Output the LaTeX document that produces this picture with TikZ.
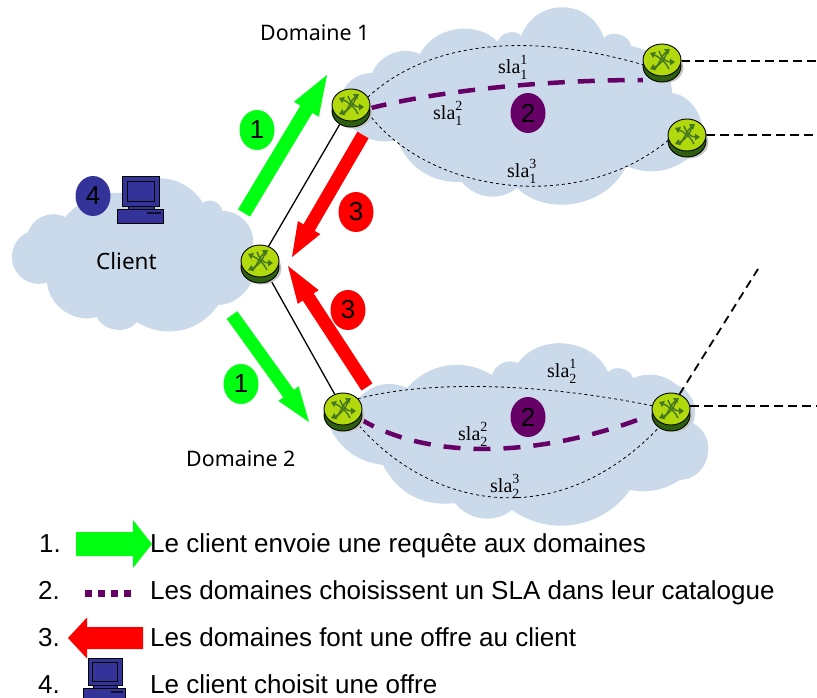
\documentclass[tikz,border=0pt]{standalone}
\usepackage{fontspec}
\setmainfont{Liberation Sans}
\newfontfamily\lblfont{Noto Sans}
\newfontfamily\slafont{Liberation Serif}
\usetikzlibrary{calc,arrows.meta,shapes.geometric}
\definecolor{cloudc}{HTML}{CBDAEB}
\definecolor{grn}{HTML}{00FF12}
\definecolor{rd}{HTML}{FF0000}
\definecolor{purp}{HTML}{660066}
\definecolor{blu}{HTML}{333399}
\definecolor{lime}{HTML}{B2D80E}
\definecolor{dkg}{HTML}{2F5F10}
\definecolor{arrg}{HTML}{44771F}
\tikzset{
  cloudshape/.style={fill=cloudc,draw=none},
  rtr/.style={ellipse,inner sep=0pt,minimum width=38pt,minimum height=32pt},
  badge/.style={ellipse,inner sep=0pt,minimum width=35pt,minimum height=40pt,font=\fontsize{26}{26}\selectfont},
  thinsla/.style={line width=0.8pt,dash pattern=on 3pt off 3pt,black},
  thicksla/.style={line width=4.5pt,dash pattern=on 17pt off 13pt,purp},
  extern/.style={line width=1.8pt,dash pattern=on 8.5pt off 5.5pt,black},
  link/.style={line width=1.3pt,black},
  legendtxt/.style={anchor=base west,inner sep=0pt,font=\fontsize{26}{26}\selectfont},
  lbl/.style={anchor=base west,inner sep=0pt,font=\lblfont\fontsize{21.4}{22}\selectfont},
  slalbl/.style={anchor=base west,inner sep=0pt,font=\slafont\fontsize{20}{20}\selectfont},
}
\newcommand{\sla}[2]{sla\rlap{\raisebox{9pt}{\fontsize{14}{14}\selectfont #2}}\raisebox{-6pt}{\fontsize{14}{14}\selectfont #1}}
\newcommand{\bigarrow}[7]{%
  % name, colour, tail, tip, shaft half, head half, head length
  \coordinate (#1T) at (#3);\coordinate (#1P) at (#4);
  \coordinate (#1B) at ($(#1P)!#7pt!(#1T)$);
  \fill[#2] ($(#1T)!#5pt!90:(#1P)$) -- ($(#1B)!#5pt!90:(#1P)$) -- ($(#1B)!#6pt!90:(#1P)$) -- (#1P)
    -- ($(#1B)!#6pt!-90:(#1P)$) -- ($(#1B)!#5pt!-90:(#1P)$) -- ($(#1T)!#5pt!-90:(#1P)$) -- cycle;}
\newcommand{\router}[3]{%
  \begin{scope}[shift={(#2,#3)},x=1pt,y=-1pt]
    \fill[black!22] (2,7.5) ellipse [x radius=19.5,y radius=16];
    \draw[black,line width=0.9pt,fill=dkg] (0,6) ellipse [x radius=19,y radius=16];
    \draw[black,line width=0.9pt,fill=lime] (0,0) ellipse [x radius=19,y radius=16];
    \begin{scope}[arrg,line width=1.4pt,-{Triangle[length=5pt,width=6.5pt]}]
      \draw (-7,9) .. controls (-3,4) and (0,-5) .. (8,-11);
      \draw (7,9) .. controls (4,2) and (-3,-3) .. (-12,-7);
      \draw (-3,-9) .. controls (-1,-3) and (3,2) .. (13,2);
      \draw (5,-8) .. controls (3,-1) and (-2,5) .. (-12,9);
    \end{scope}
  \end{scope}}
\newcommand{\computer}[3]{%
  \begin{scope}[shift={(#1,#2)},x=#3pt,y=-#3pt,draw=black,line width=0.8pt]
    \draw[fill=blu] (0,0) rectangle (37,30);
    \draw[fill=blu] (5,5) rectangle (32,25);
    \draw[fill=blu] (6,30) rectangle (32,34);
    \draw[fill=blu] (-5,33.5) rectangle (41,47);
    \fill[black!70!blu] (25,36) rectangle (38.5,38);
  \end{scope}}
\begin{document}
\begin{tikzpicture}[x=1pt,y=-1pt]
\useasboundingbox (0,0) rectangle (817,697);
\clip (0,0) rectangle (817,697);
% clouds
\fill[cloudshape] (38,284) to[bend left=75,looseness=1.4] (28,232) to[bend left=50] (65,217) to[bend left=25] (125,193)
  to[bend left=50,looseness=1.1] (203,203) to[bend left=70] (222,211) to[bend left=50] (253,245) to[bend left=60] (218,305)
  to[bend left=45] (137,322) to[bend left=60] (97,317) to[bend left=50] (47,283) -- cycle;
\fill[cloudshape] (340,100) to[bend left=40] (372,73) to[bend left=45] (420,54) to[bend left=55] (498,42)
  to[bend left=70] (521,36) to[bend left=70,looseness=1.3] (604,38) to[bend left=70] (631,46) to[bend left=40] (672,93)
  to[bend left=60] (697,150) to[bend left=35] (626,166) to[bend left=55] (517,188) to[bend left=45] (462,182)
  to[bend left=35] (397,140) to[bend left=30] (350,125) -- cycle;
\fill[cloudshape] (325,415) -- (360,397) to[bend left=35] (407,388) to[bend left=40] (492,375) to[bend left=50] (518,363)
  to[bend left=60,looseness=1.05] (608,372) to[bend left=60] (633,378) to[bend left=30] (677,385) to[bend left=45] (693,423)
  to[bend left=75,looseness=1.3] (680,480) to[bend left=20] (630,490) to[bend left=45] (512,510) to[bend left=45] (455,503)
  to[bend left=35] (383,465) to[bend left=25] (332,432) -- cycle;
% routers
\node[rtr] (rc) at (260,261) {};
\node[rtr] (ra) at (351,105) {};
\node[rtr] (rb) at (662,60) {};
\node[rtr] (rd) at (687,135) {};
\node[rtr] (re) at (343,409) {};
\node[rtr] (rf) at (671,409) {};
\coordinate (xb) at (817,61);
\coordinate (xd) at (817,135);
\coordinate (xf) at (817,406);
\coordinate (xg) at (758,269);
% connectors
\draw[link] (rc) -- (ra);
\draw[link] (rc) -- (re);
\draw[extern] (rb.east |- xb) -- (xb);
\draw[extern] (rd.east |- xd) -- (xd);
\draw[extern] (rf.east |- xf) -- (xf);
\draw[extern] (rf.60) -- (xg);
\draw[thinsla] (ra.25) .. controls (430,40) and (530,32) .. (rb.195);
\draw[thicksla] (ra.350) .. controls (450,88) and (560,80) .. (rb.west |- 0,80);
\draw[thinsla] (ra.335) .. controls (430,195) and (580,214) .. (rd.195);
\draw[thinsla] (re.35) .. controls (430,380) and (540,383) .. (rf.170);
\draw[thicksla] (re.330) .. controls (430,462) and (540,456) .. (640,419);
\draw[thinsla] (re.315) .. controls (430,510) and (560,535) .. (rf.240);
% router bodies
\router{rc}{260}{261}
\router{ra}{351}{105}
\router{rb}{662}{60}
\router{rd}{687}{135}
\router{re}{343}{409}
\router{rf}{671}{409}
% big arrows
\bigarrow{ga}{grn}{244,213}{327,75}{7}{14.5}{40}
\bigarrow{gb}{grn}{232,315}{309,422}{6.5}{12.5}{35}
\bigarrow{ar}{rd}{363,135}{292,257}{6.5}{13}{34}
\bigarrow{br}{rd}{367,387}{288,266}{6.5}{12.5}{37}
% badges
\node[badge,fill=grn] (b1a) at (257,130) {1};
\node[badge,fill=grn] (b1b) at (241,384) {1};
\node[badge,fill=rd] (b3a) at (356,212) {3};
\node[badge,fill=rd] (b3b) at (348,310) {3};
\node[badge,fill=blu] (b4) at (93,196) {4};
\node[badge,fill=purp] (b2a) at (528,113) {2};
\node[badge,fill=purp] (b2b) at (528,417) {2};
\computer{122}{176}{1}
% labels
\node[lbl] (d1) at (260,40) {Domaine 1};
\node[lbl] (d2) at (186,466) {Domaine 2};
\node[lbl,font=\lblfont\fontsize{22.5}{23}\selectfont] (cl) at (96,269) {Client};
\node[slalbl] (s11) at (498,73) {\sla{1}{1}};
\node[slalbl] (s12) at (433,119) {\sla{1}{2}};
\node[slalbl] (s13) at (507,177) {\sla{1}{3}};
\node[slalbl] (s21) at (547,377) {\sla{2}{1}};
\node[slalbl] (s22) at (458,440) {\sla{2}{2}};
\node[slalbl] (s23) at (490,492) {\sla{2}{3}};
% legend
\bigarrow{lg}{grn}{76,544}{152,544}{12}{24}{19}
\bigarrow{lr}{rd}{143,638}{68,638}{11}{20.5}{19}
\coordinate (lpa) at (85,593);
\coordinate (lpb) at (131,593);
\draw[purp,line width=7pt,dash pattern=on 6.5pt off 6.5pt] (lpa) -- (lpb);
\computer{88}{658}{0.92}
\node[legendtxt] (n1) at (39,552) {1.};
\node[legendtxt] (n2) at (38,599) {2.};
\node[legendtxt] (n3) at (38,646) {3.};
\node[legendtxt] (n4) at (38,693) {4.};
\node[legendtxt] (t1) at (150,552) {Le client envoie une requête aux domaines};
\node[legendtxt] (t2) at (150,599) {Les domaines choisissent un SLA dans leur catalogue};
\node[legendtxt] (t3) at (150,646) {Les domaines font une offre au client};
\node[legendtxt] (t4) at (150,693) {Le client choisit une offre};
\end{tikzpicture}
\end{document}
